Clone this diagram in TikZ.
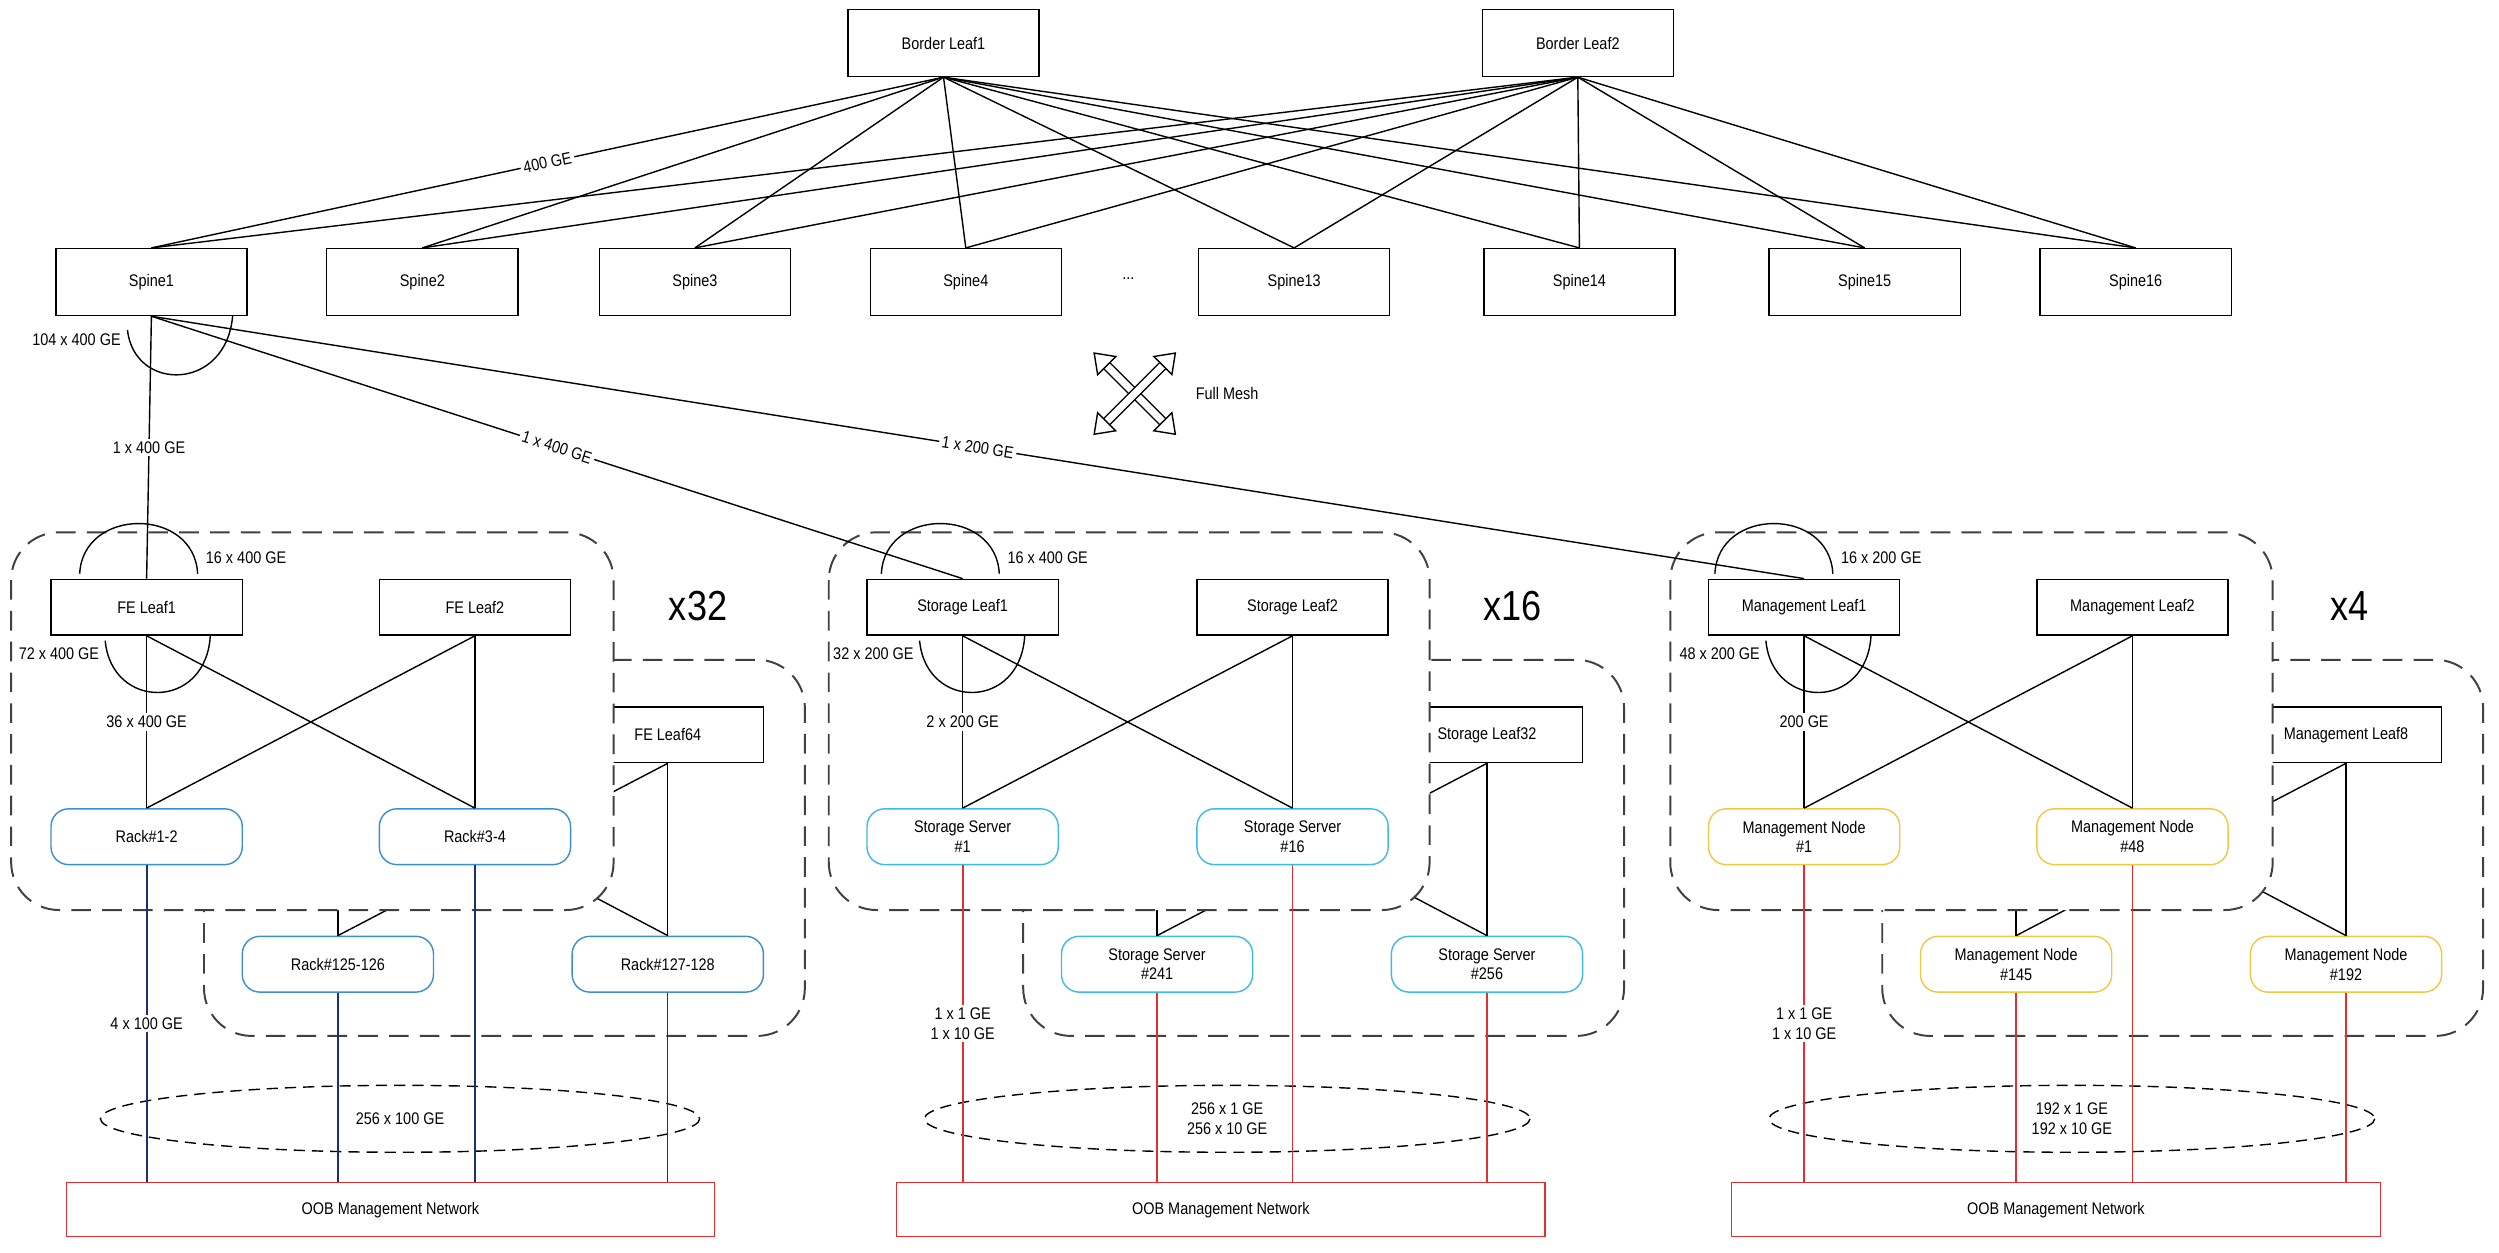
\documentclass[tikz,border=0pt]{standalone}
\usepackage{fontspec}
\setmainfont{Liberation Sans}[FakeStretch=0.86]
\usetikzlibrary{arrows.meta}
\definecolor{rackblue}{HTML}{3A8FD0}
\definecolor{storcyan}{HTML}{3DBBE6}
\definecolor{mgmtyel}{HTML}{F2C744}
\definecolor{oobred}{HTML}{E03030}
\definecolor{navy}{HTML}{1C2E78}
\tikzset{box/.style={draw,fill=white,minimum width=2.4cm,minimum height=0.7cm,font=\fontsize{6}{7}\selectfont,align=center}}
\tikzset{spine/.style={box,minimum height=0.84cm}}
\tikzset{rack/.style={box,rounded corners=0.22cm,draw=rackblue}}
\tikzset{stor/.style={box,rounded corners=0.22cm,draw=storcyan}}
\tikzset{mgmt/.style={box,rounded corners=0.22cm,draw=mgmtyel}}
\tikzset{oob/.style={draw=oobred,minimum width=8.14cm,minimum height=0.68cm,font=\fontsize{6}{7}\selectfont}}
\tikzset{cluster/.style={draw=black!75,dash pattern=on 7pt off 4pt,line width=0.7pt,rounded corners=0.6cm}}
\tikzset{lbl/.style={font=\fontsize{6}{7}\selectfont,inner sep=1pt,fill=white,align=center}}
\tikzset{big/.style={font=\fontsize{15}{17}\selectfont}}
\begin{document}
\begin{tikzpicture}[x=0.02cm,y=-0.02cm,line width=0.5pt]
  \useasboundingbox (0,0) rectangle (1568,786);
  % border leaves and spines
  \node[spine] (bl1) at (592,27) {Border Leaf1};
  \node[spine] (bl2) at (990,27) {Border Leaf2};
  \foreach \n/\x in {1/95,2/265,3/436,4/606,13/812,14/991,15/1170,16/1340}
    \node[spine] (sp\n) at (\x,177) {Spine\n};
  \node[font=\fontsize{6}{7}\selectfont] (dots) at (708,175) {...};
  \foreach \n in {2,3,4,13,14,15,16}
    \draw (bl1.south) -- (sp\n.north);
  \draw (bl1.south) -- node[lbl,sloped,pos=0.5] {400 GE} (sp1.north);
  \foreach \n in {1,2,3,4,13,14,15,16}
    \draw (bl2.south) -- (sp\n.north);
  % full mesh
  \coordinate (fm) at (712,247);
  \draw[double,double distance=2.5pt,{Triangle[open,length=7pt,width=10pt]}-{Triangle[open,length=7pt,width=10pt]}] (686,221) -- (738,273);
  \draw[double,double distance=2.5pt,{Triangle[open,length=7pt,width=10pt]}-{Triangle[open,length=7pt,width=10pt]}] (738,221) -- (686,273);
  \node[font=\fontsize{6}{7}\selectfont,anchor=west] (fmt) at (744,247) {Full Mesh};
  % back clusters
  \draw[cluster] (128,414) rectangle (505,650);
  \draw[cluster] (642,414) rectangle (1019,650);
  \draw[cluster] (1181,414) rectangle (1558,650);
  \node[box] (fe64) at (419,461) {FE Leaf64};
  \node[box] (s32) at (933,461) {Storage Leaf32};
  \node[box] (m8) at (1472,461) {Management Leaf8};
  \coordinate (fe63) at (212,478);
  \coordinate (s31) at (726,478);
  \coordinate (m7) at (1265,478);
  \node[rack] (r125) at (212,605) {Rack\#125-126};
  \node[rack] (r127) at (419,605) {Rack\#127-128};
  \node[stor] (ss241) at (726,605) {Storage Server\\\#241};
  \node[stor] (ss256) at (933,605) {Storage Server\\\#256};
  \node[mgmt] (mn145) at (1265,605) {Management Node\\\#145};
  \node[mgmt] (mn192) at (1472,605) {Management Node\\\#192};
  \foreach \a/\b/\c/\d in {fe63/fe64/r125/r127,s31/s32/ss241/ss256,m7/m8/mn145/mn192}{
    \draw (\a) -- (\c.north); \draw (\a) -- (\d.north);
    \draw (\b.south) -- (\c.north); \draw (\b.south) -- (\d.north);
  }
  % front clusters
  \draw[cluster,fill=white] (7,334) rectangle (385,571);
  \draw[cluster,fill=white] (520,334) rectangle (897,571);
  \draw[cluster,fill=white] (1048,334) rectangle (1426,571);
  \node[big] (x32) at (438,380) {x32};
  \node[big] (x16) at (949,380) {x16};
  \node[big] (x4) at (1474,380) {x4};
  \node[box] (fe1) at (92,381) {FE Leaf1};
  \node[box] (fe2) at (298,381) {FE Leaf2};
  \node[box] (s1) at (604,381) {Storage Leaf1};
  \node[box] (s2) at (811,381) {Storage Leaf2};
  \node[box] (m1) at (1132,381) {Management Leaf1};
  \node[box] (m2) at (1338,381) {Management Leaf2};
  \node[rack] (r1) at (92,525) {Rack\#1-2};
  \node[rack] (r3) at (298,525) {Rack\#3-4};
  \node[stor] (ss1) at (604,525) {Storage Server\\\#1};
  \node[stor] (ss16) at (811,525) {Storage Server\\\#16};
  \node[mgmt] (mn1) at (1132,525) {Management Node\\\#1};
  \node[mgmt] (mn48) at (1338,525) {Management Node\\\#48};
  \foreach \a/\b/\c/\d in {fe1/fe2/r1/r3,s1/s2/ss1/ss16,m1/m2/mn1/mn48}{
    \draw (\a.south) -- (\d.north);
    \draw (\b.south) -- (\c.north); \draw (\b.south) -- (\d.north);
  }
  \draw (fe1.south) -- node[lbl,pos=0.5] {36 x 400 GE} (r1.north);
  \draw (s1.south) -- node[lbl,pos=0.5] {2 x 200 GE} (ss1.north);
  \draw (m1.south) -- node[lbl,pos=0.5] {200 GE} (mn1.north);
  % arcs
  \draw (80,207) .. controls (84,246) and (142,246) .. (146,198);
  \node[lbl,fill=none] (l104) at (48,213) {104 x 400 GE};
  \foreach \x/\t/\b/\u in {0/16 x 400 GE/72 x 400 GE/0,503/16 x 400 GE/32 x 200 GE/8,1026/16 x 200 GE/48 x 200 GE/16}{
    \draw (50+\x,360) .. controls (52+\x,318) and (122+\x,318) .. (124+\x,360);
    \draw (66+\x+\u,402) .. controls (70+\x+\u,446) and (130+\x+\u,446) .. (132+\x+\u,398);
    \node[lbl,fill=none,anchor=west] at (127+\x,350) {\t};
    \node[lbl,fill=none] at (37+\x+\u,410) {\b};
  }
  % spine1 uplinks
  \draw (sp1.south) -- node[lbl,pos=0.5] {1 x 400 GE} (fe1.north);
  \draw (sp1.south) -- node[lbl,sloped,pos=0.5] {1 x 400 GE} (s1.north);
  \draw (sp1.south) -- node[lbl,sloped,pos=0.5] {1 x 200 GE} (m1.north);
  % oob
  \node[oob] (oob1) at (245,759) {OOB Management Network};
  \node[oob] (oob2) at (766,759) {OOB Management Network};
  \node[oob] (oob3) at (1290,759) {OOB Management Network};
  \draw[dash pattern=on 4pt off 2.5pt] (251,702) ellipse [x radius=188,y radius=21];
  \draw[dash pattern=on 4pt off 2.5pt] (770,702) ellipse [x radius=190,y radius=21];
  \draw[dash pattern=on 4pt off 2.5pt] (1300,702) ellipse [x radius=190,y radius=21];
  \draw[navy,line width=0.8pt] (r1.south) -- node[lbl,text=black,pos=0.5] {4 x 100 GE} (r1.south |- oob1.north);
  \foreach \r in {r3,r125,r127}
    \draw[navy] (\r.south) -- (\r.south |- oob1.north);
  \draw[oobred,line width=0.8pt] (ss1.south) -- node[lbl,text=black,pos=0.5] {1 x 1 GE\\1 x 10 GE} (ss1.south |- oob2.north);
  \foreach \r in {ss16,ss241,ss256}
    \draw[oobred] (\r.south) -- (\r.south |- oob2.north);
  \draw[oobred,line width=0.8pt] (mn1.south) -- node[lbl,text=black,pos=0.5] {1 x 1 GE\\1 x 10 GE} (mn1.south |- oob3.north);
  \foreach \r in {mn48,mn145,mn192}
    \draw[oobred] (\r.south) -- (\r.south |- oob3.north);
  \node[lbl] (e1) at (251,702) {256 x 100 GE};
  \node[lbl,fill=none] (e2) at (770,702) {256 x 1 GE\\256 x 10 GE};
  \node[lbl,fill=none] (e3) at (1300,702) {192 x 1 GE\\192 x 10 GE};
\end{tikzpicture}
\end{document}
